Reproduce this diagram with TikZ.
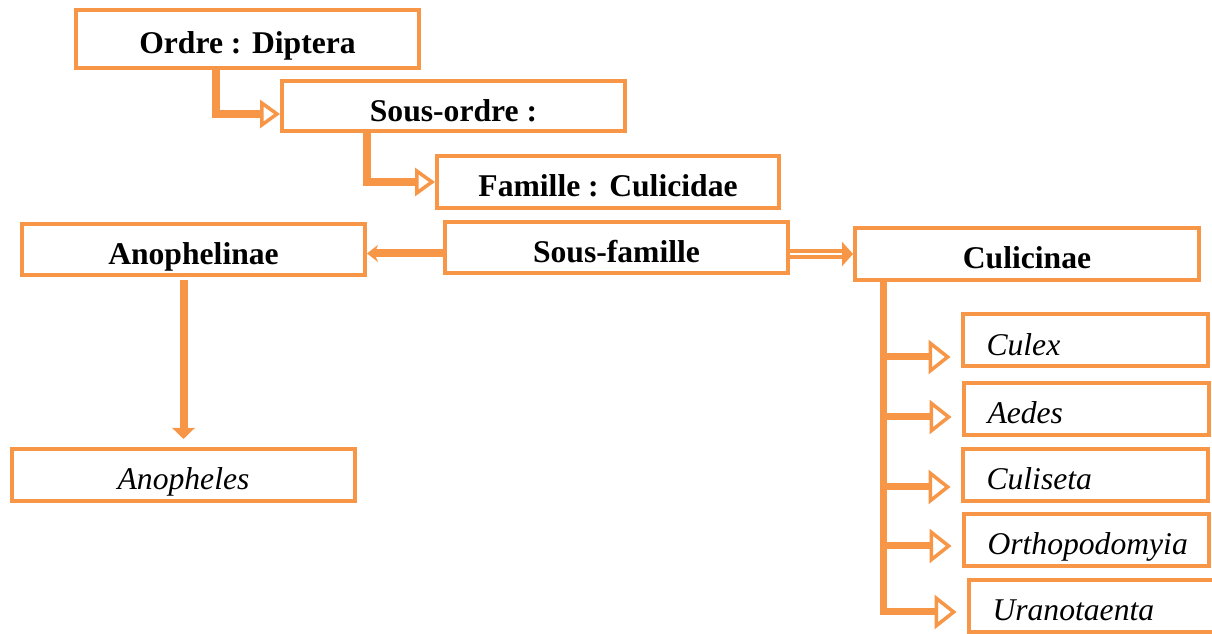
\documentclass[tikz,border=0pt]{standalone}
\usepackage{fontspec}
\setmainfont{Liberation Serif}
\usepackage{tikz}
\usetikzlibrary{arrows.meta}
\definecolor{boxorange}{RGB}{247,150,70}

\begin{document}
\begin{tikzpicture}[
		taxbox/.style={draw=boxorange, line width=0.08cm, inner xsep=0pt, inner ysep=0pt, text height=0.8cm, text depth=0.2cm, font=\fontsize{18}{21}\selectfont\bfseries},
		genusbox/.style={taxbox, font=\fontsize{18}{21}\selectfont\itshape, inner xsep=0.48cm, text width=3.94cm, align=left, minimum height=1.04cm},
		step link/.style={draw=boxorange, line width=0.16cm, -{Triangle[open, length=0.4cm, width=0.56cm, line width=0.07cm]}},
		branch/.style={draw=boxorange, line width=0.14cm, shorten >=0.2cm, -{Triangle[open, length=0.44cm, width=0.68cm, line width=0.07cm]}}
	]
				% Boxes, arrows and texts:
				\useasboundingbox (0, 0) rectangle (24.24, 12.68);
				\node[taxbox, minimum width=6.86cm, minimum height=1.16cm] (ordre) at (4.95, 11.90) {Ordre : Diptera};
				\node[taxbox, minimum width=6.86cm, minimum height=1.0cm] (sousordre) at (9.07, 10.55) {Sous-ordre :};
				\node[taxbox, minimum width=6.84cm, minimum height=1.04cm] (famille) at (12.16, 9.04) {Famille : Culicidae};
				\node[taxbox, minimum width=6.86cm, minimum height=1.02cm] (sousfamille) at (12.33, 7.73) {Sous-famille};
				\node[taxbox, minimum width=6.86cm, minimum height=1.02cm] (anophelinae) at (3.87, 7.69) {Anophelinae};
				\node[taxbox, minimum width=6.88cm, minimum height=1.04cm] (culicinae) at (20.54, 7.60) {Culicinae};
				\node[taxbox, font=\fontsize{18}{21}\selectfont\itshape, minimum width=6.86cm, minimum height=1.04cm] (anopheles) at (3.67, 3.18) {Anopheles};
				\node[genusbox] (culex) at (21.70, 5.87) {Culex};
				\node[genusbox] (aedes) at (21.72, 4.50) {Aedes};
				\node[genusbox] (culiseta) at (21.70, 3.18) {Culiseta};
				\node[genusbox] (orthopodomyia) at (21.72, 1.88) {Orthopodomyia};
				\node[genusbox] (uranotaenta) at (21.82, 0.56) {Uranotaenta};
				\draw[step link] ([xshift=-0.63cm]ordre.south) |- ([yshift=-0.15cm]sousordre.west);
				\draw[step link] ([xshift=-1.73cm]sousordre.south) |- (famille.west);
				\draw[draw=boxorange, line width=0.16cm, -{Stealth[length=0.22cm, width=0.34cm]}] ([yshift=-0.12cm]sousfamille.west) -- ([yshift=-0.12cm]sousfamille.west -| anophelinae.east);
				\draw[draw=boxorange, line width=0.08cm, double=white, double distance=0.04cm, -{Triangle[length=0.22cm, width=0.48cm]}] (sousfamille.east |- culicinae.west) -- (culicinae.west);
				\draw[draw=boxorange, line width=0.16cm, shorten <=0.06cm, shorten >=0.16cm, -{Triangle[length=0.22cm, width=0.44cm]}] (anophelinae.south -| anopheles.north) -- (anopheles.north);
				\coordinate (trunk) at ([xshift=0.6cm]culicinae.south west);
				\draw[branch] (trunk) |- ([yshift=-0.33cm]culex.west);
				\draw[branch] (trunk) |- ([yshift=-0.16cm]aedes.west);
				\draw[branch] (trunk) |- ([yshift=-0.24cm]culiseta.west);
				\draw[branch] (trunk) |- ([yshift=-0.12cm]orthopodomyia.west);
				\draw[branch] (trunk) |- ([yshift=-0.12cm]uranotaenta.west);
			\end{tikzpicture}
\end{document}
